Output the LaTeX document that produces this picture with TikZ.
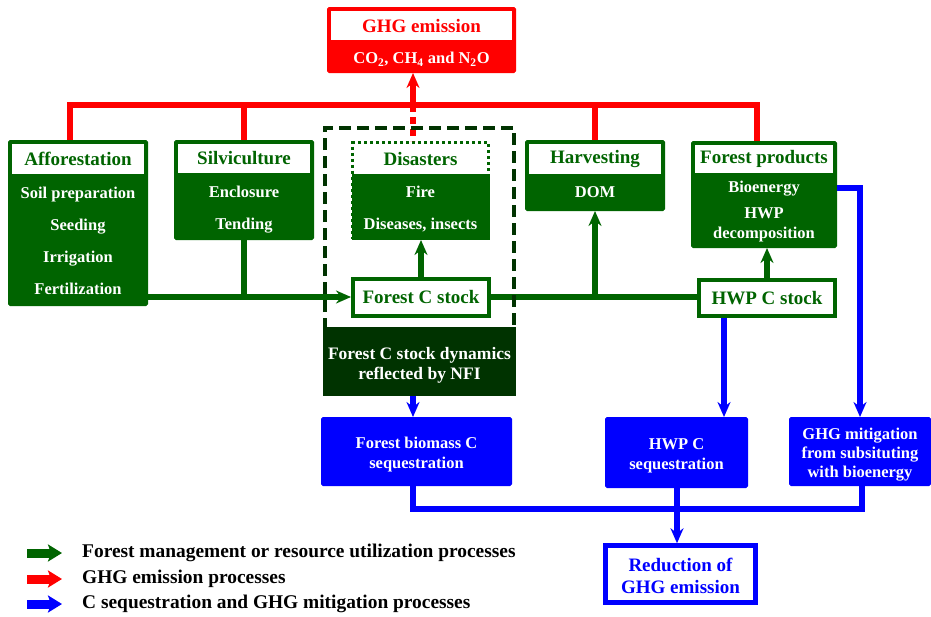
\documentclass[tikz,border=0pt]{standalone}
\usepackage{fontspec}
\setmainfont{Liberation Serif}
\usepackage{xcolor}
\usetikzlibrary{arrows.meta,calc}

\definecolor{fgreen}{RGB}{0,100,0}
\definecolor{fdark}{RGB}{0,51,0}
\definecolor{gred}{RGB}{255,0,0}
\definecolor{sblue}{RGB}{0,0,255}

\newcommand{\hdfont}{\fontsize{19}{22}\selectfont\bfseries}
\newcommand{\itfont}{\fontsize{16.5}{20}\selectfont\bfseries}

\begin{document}
\begin{tikzpicture}[x=1pt,y=1pt,yscale=-1,
  gbox/.style={draw=fgreen,fill=fgreen,line width=1pt,rounded corners=1.5pt,inner sep=0pt},
  ghead/.style={fill=white,text=fgreen,font=\hdfont,inner sep=0pt},
  gtxt/.style={text=white,font=\itfont,align=center},
  bbox/.style={draw=sblue,fill=sblue,line width=1pt,rounded corners=1.5pt,inner sep=0pt},
  stockbox/.style={draw=fgreen,fill=white,line width=4pt,text=fgreen,font=\hdfont,inner sep=0pt},
  gln/.style={draw=fgreen,line width=5.5pt},
  rln/.style={draw=gred,line width=6pt},
  bln/.style={draw=sblue,line width=6pt},
  legtxt/.style={font=\fontsize{19.4}{22}\selectfont\bfseries,anchor=west,inner sep=0pt},
  >={Stealth[length=15pt,width=13pt,inset=5pt]}]
\useasboundingbox (0,0) rectangle (931,616);

%Shape: GHG emission
\node[draw=gred,fill=gred,line width=1pt,rounded corners=1.5pt,minimum width=188,minimum height=65,inner sep=0pt] (ghg) at (421.5,40) {};
\node[fill=white,text=gred,font=\hdfont,minimum width=181,minimum height=29,inner sep=0pt] (ghghd) at (421.5,25.5) {GHG emission};
\node[text=white,font=\itfont] (ghgit) at (421.5,59) {CO\textsubscript{2}, CH\textsubscript{4} and N\textsubscript{2}O};

%Shape: Afforestation
\node[gbox,minimum width=139,minimum height=165] (affo) at (78,223) {};
\node[ghead,minimum width=132,minimum height=30] (affohd) at (78,159) {Afforestation};
\node[gtxt] (affoit) at (78,241) {Soil preparation\\[12pt]Seeding\\[12pt]Irrigation\\[12pt]Fertilization};

%Shape: Silviculture
\node[gbox,minimum width=139,minimum height=99] (silv) at (244,190) {};
\node[ghead,minimum width=132,minimum height=29] (silvhd) at (244,158.5) {Silviculture};
\node[gtxt] (silvit) at (244,210) {Enclosure\\[12pt]Tending};

%Shape: Harvesting
\node[gbox,minimum width=139,minimum height=70] (harv) at (595,175.5) {};
\node[ghead,minimum width=132,minimum height=30] (harvhd) at (595,159) {Harvesting};
\node[gtxt] (harvit) at (595,192) {DOM};

%Shape: Forest products
\node[gbox,minimum width=145,minimum height=106] (prod) at (764,194.5) {};
\node[ghead,minimum width=138,minimum height=28] (prodhd) at (764,158.5) {Forest products};
\node[gtxt] (prodit) at (764,212) {Bioenergy\\[6pt]HWP\\decomposition};

%Shape: Disasters
\node[fill=fgreen,minimum width=138,minimum height=66,inner sep=0pt] (disbody) at (420.5,207) {};
\node[draw=fgreen,line width=3pt,dash pattern=on 3pt off 3pt,minimum width=136,minimum height=96,inner sep=0pt] (dis) at (420.5,190.5) {};
\node[text=fgreen,font=\hdfont] (dishd) at (420.5,159) {Disasters};
\node[gtxt] (disit) at (420.5,209) {Fire\\[12pt]Diseases, insects};

%Shape: C stocks
\node[stockbox,minimum width=136,minimum height=37] (cstock) at (421,297) {Forest C stock};
\node[stockbox,minimum width=136,minimum height=36] (hwpstock) at (767,298) {HWP C stock};

%Straight Lines: emission
\coordinate (redbus) at (413,105);
\draw[rln] ([xshift=-8pt]affo.north) |- (redbus) -| ([xshift=-7pt]prod.north);
\draw[rln] (silv.north) -- (silv.north |- redbus);
\draw[rln] (harv.north) -- (harv.north |- redbus);
\draw[rln,->] (redbus) -- (redbus |- ghg.south);
\draw[rln,dash pattern=on 7pt off 5pt] (redbus) -- (redbus |- dis.north);

%Straight Lines: management
\draw[gln,->] (affo.east |- cstock) -- (cstock.west);
\draw[gln] (silv.south) -- (silv.south |- cstock);
\draw[gln,->] (cstock.north) -- (cstock.north |- dis.south);
\draw[gln] (cstock.east) -- (cstock.east -| hwpstock.west);
\draw[gln,->] (harv.south |- cstock) -- (harv.south);
\draw[gln,->] (hwpstock.north) -- (hwpstock.north |- prod.south);

%Shape: dashed frame and NFI
\draw[draw=fdark,line width=4.5pt,dash pattern=on 12pt off 6pt] (325,330) -- (325,128) -- (514,128) -- (514,330);
\node[fill=fdark,minimum width=193,minimum height=69,inner sep=0pt] (nfi) at (419.5,361.5) {};
\node[text=white,font=\fontsize{17.5}{20}\selectfont\bfseries,align=center] (nfiit) at (419.5,365.5) {Forest C stock dynamics\\reflected by NFI};

%Shape: sequestration
\node[bbox,minimum width=190,minimum height=68] (bio) at (416.5,451.5) {};
\node[gtxt] (bioit) at (416.5,454.5) {Forest biomass C\\sequestration};
\node[bbox,minimum width=142,minimum height=70] (hwpseq) at (676.5,452.5) {};
\node[gtxt] (hwpseqit) at (676.5,456) {HWP C\\sequestration};
\node[bbox,minimum width=141,minimum height=68] (mitig) at (860,451.5) {};
\node[gtxt,font=\fontsize{16.5}{19}\selectfont\bfseries] (mitigit) at (860,454.5) {GHG mitigation\\from subsituting\\with bioenergy};
\node[draw=sblue,fill=white,line width=4.5pt,minimum width=150,minimum height=57,inner sep=0pt] (reduce) at (680.5,574) {};
\node[text=sblue,font=\hdfont,align=center] (reduceit) at (680.5,576) {Reduction of\\GHG emission};

%Straight Lines: sequestration
\coordinate (nfiout) at ([xshift=-6.5pt]nfi.south);
\coordinate (hwpout) at ([xshift=-43pt]hwpstock.south);
\coordinate (bluebus) at (677,509);
\draw[bln,->] ($(prod.east)+(0,-6.5)$) -| (mitig.north);
\draw[bln,->] (hwpout) -- (hwpout |- hwpseq.north);
\draw[bln,->] (nfiout) -- (nfiout |- bio.north);
\draw[bln] ([xshift=-3.5pt]bio.south) |- (bluebus) -| ([xshift=2pt]mitig.south);
\draw[bln] (hwpseq.south) -- (hwpseq.south |- bluebus);
\draw[bln,->] (bluebus) -- (bluebus |- reduce.north);

% Text Node: legend
\node[legtxt] (leg1) at (82,553) {Forest management or resource utilization processes};
\node[legtxt] (leg2) at (82,579) {GHG emission processes};
\node[legtxt] (leg3) at (82,604) {C sequestration and GHG mitigation processes};
\foreach \n/\c in {leg1/fgreen,leg2/gred,leg3/sblue}
  \draw[draw=\c,line width=9pt,-{Stealth[length=14pt,width=17pt,inset=3pt]}] ([xshift=-55pt]\n.west) -- ([xshift=-20pt]\n.west);

\end{tikzpicture}
\end{document}
